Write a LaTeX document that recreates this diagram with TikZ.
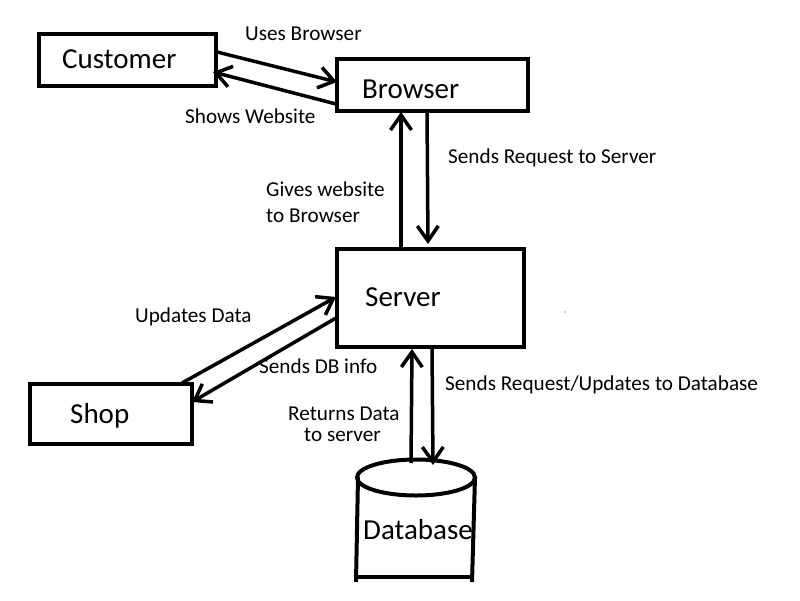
\documentclass[tikz,border=0pt]{standalone}
\usepackage{fontspec}
\setmainfont{Carlito}
\usetikzlibrary{arrows.meta}
\begin{document}
\begin{tikzpicture}[x=1pt,y=-1pt,
  box/.style={draw, line width=4pt, inner sep=0pt, outer sep=0pt},
  boxtxt/.style={font=\fontsize{29}{34}\selectfont, inner sep=0pt, anchor=base west},
  lbl/.style={font=\fontsize{21.2}{25}\selectfont, inner sep=0pt, anchor=base west},
  arr/.style={line width=3.5pt, -{Straight Barb[length=15pt,width=21pt]}},
  dbline/.style={line width=4pt}]
\useasboundingbox (0,0) rectangle (800,600);
\fill[white] (0,0) rectangle (800,600);

% boxes
\node[box, minimum width=177pt, minimum height=52pt] (cust) at (127.5,60) {};
\node[box, minimum width=191pt, minimum height=52pt] (brw) at (432.5,85) {};
\node[box, minimum width=187pt, minimum height=98pt] (srv) at (430.5,298) {};
\node[box, minimum width=162pt, minimum height=60pt] (shop) at (110.5,414) {};

% database cylinder
\draw[dbline] (358,477) -- (356,582);
\draw[dbline] (475,477) -- (472,582);
\draw[dbline] (356,577) -- (472,577);
\draw[dbline] (416,477.5) ellipse [x radius=59, y radius=18];

% box texts
\node[boxtxt] (custT) at (62,68) {Customer};
\node[boxtxt] (brwT) at (362,98) {Browser};
\node[boxtxt] (srvT) at (365,306) {Server};
\node[boxtxt] (shopT) at (70,423) {Shop};
\node[boxtxt] (dbT) at (363,539) {Database};

% connector end points
\coordinate (a1s) at (217,52);  \coordinate (a1e) at (337,82);
\coordinate (a2s) at (336,104); \coordinate (a2e) at (213,72);
\coordinate (a3s) at (401,248); \coordinate (a3e) at (401,112);
\coordinate (a4s) at (427,111); \coordinate (a4e) at (428,244);
\coordinate (a5s) at (182,383); \coordinate (a5e) at (336,297);
\coordinate (a6s) at (336,318); \coordinate (a6e) at (192,402);
\coordinate (a7s) at (411,463); \coordinate (a7e) at (412,349);
\coordinate (a8s) at (432,347); \coordinate (a8e) at (433,465);

\draw[arr] (a1s) -- (a1e);
\draw[arr] (a2s) -- (a2e);
\draw[arr] (a3s) -- (a3e);
\draw[arr] (a4s) -- (a4e);
\draw[arr] (a5s) -- (a5e);
\draw[arr] (a6s) -- (a6e);
\draw[arr] (a7s) -- (a7e);
\draw[arr] (a8s) -- (a8e);

% labels
\node[lbl] (l1) at (245,40) {Uses Browser};
\node[lbl] (l2) at (185,123) {Shows Website};
\node[lbl] (l3) at (448,163) {Sends Request to Server};
\node[lbl] (l4a) at (266,196) {Gives website};
\node[lbl] (l4b) at (266,222) {to Browser};
\node[lbl] (l5) at (135,322) {Updates Data};
\node[lbl] (l6) at (259,373) {Sends DB info};
\node[lbl] (l7a) at (288,420) {Returns Data};
\node[lbl] (l7b) at (304,441) {to server};
\node[lbl] (l8) at (445,390) {Sends Request/Updates to Database};

\fill[black!70] (565,312) circle [radius=0.6];
\end{tikzpicture}
\end{document}
